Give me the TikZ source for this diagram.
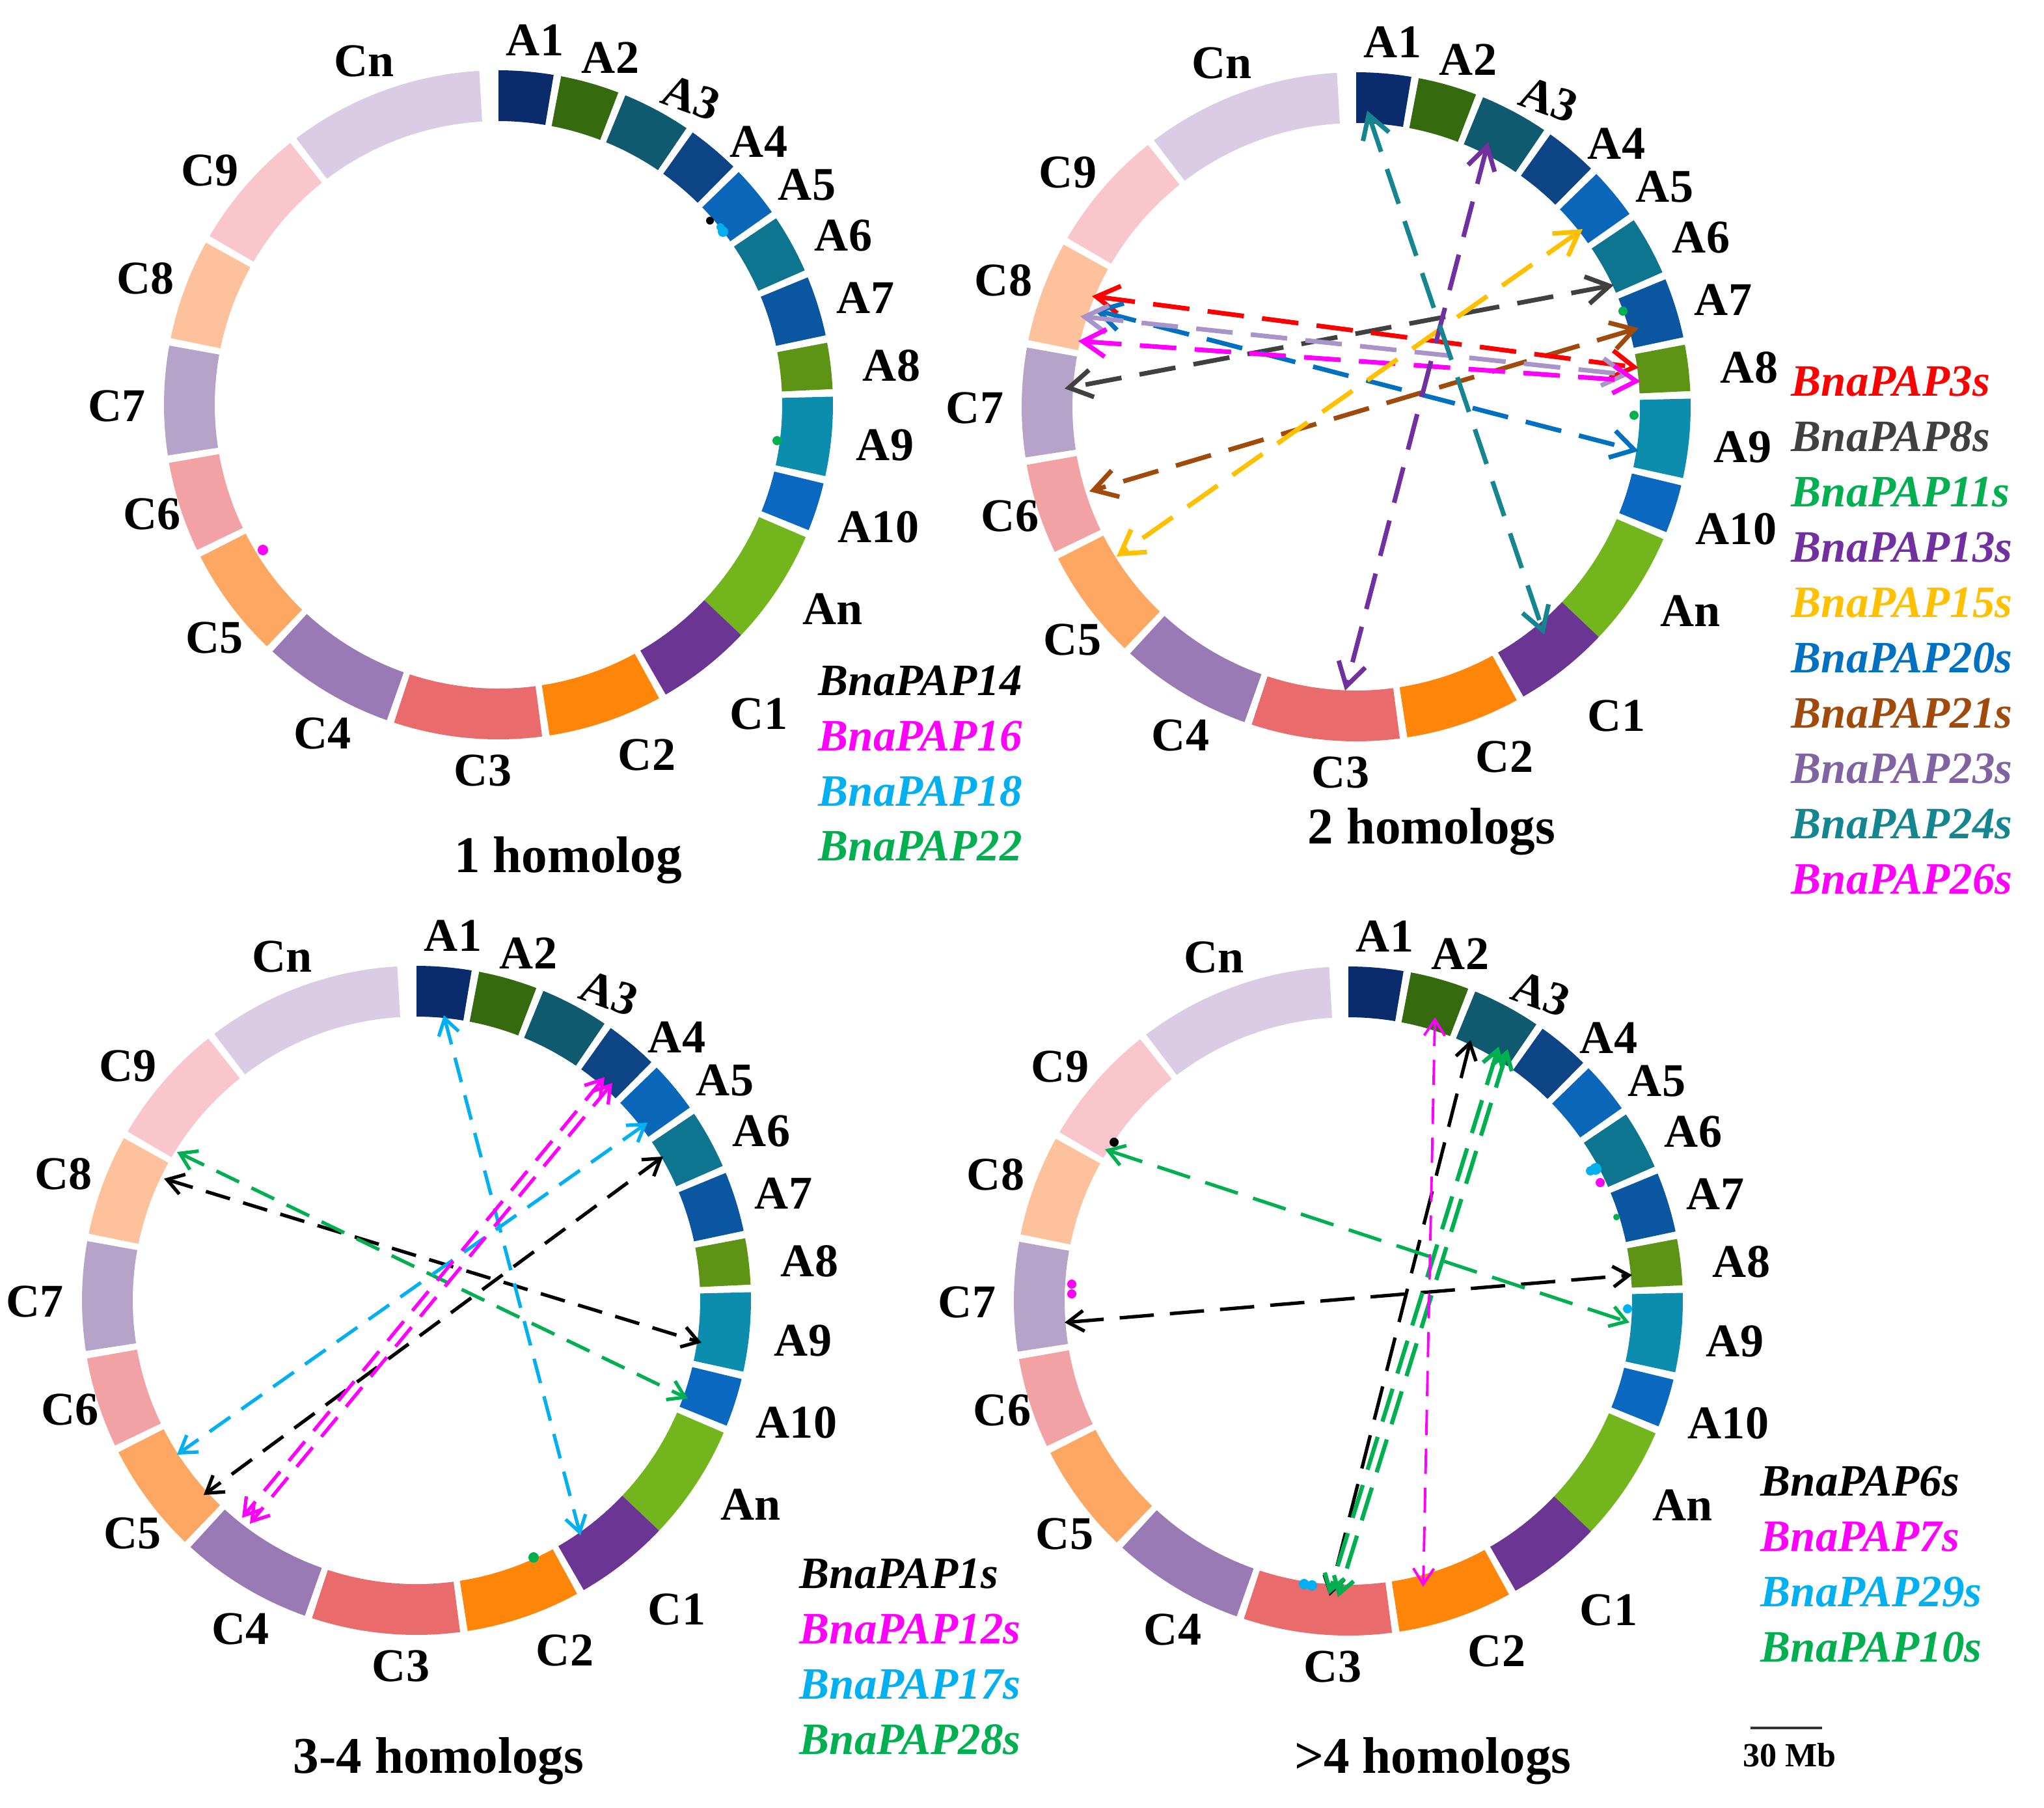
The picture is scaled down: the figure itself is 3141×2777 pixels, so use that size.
\documentclass[tikz,border=0pt]{standalone}
\usepackage{fontspec}
\setmainfont{Liberation Serif}
\usetikzlibrary{arrows.meta,calc}

\definecolor{cA1}{HTML}{0B2C6C}
\definecolor{cA2}{HTML}{356A0F}
\definecolor{cA3}{HTML}{0F5A6E}
\definecolor{cA4}{HTML}{0C4485}
\definecolor{cA5}{HTML}{0A66B8}
\definecolor{cA6}{HTML}{0E7590}
\definecolor{cA7}{HTML}{0A56A0}
\definecolor{cA8}{HTML}{5E9415}
\definecolor{cA9}{HTML}{0D8DAE}
\definecolor{cA10}{HTML}{0A68C0}
\definecolor{cAn}{HTML}{73B51C}
\definecolor{cC1}{HTML}{6A3593}
\definecolor{cC2}{HTML}{FF8609}
\definecolor{cC3}{HTML}{E96B6B}
\definecolor{cC4}{HTML}{9A7AB4}
\definecolor{cC5}{HTML}{FDA763}
\definecolor{cC6}{HTML}{F2A2A4}
\definecolor{cC7}{HTML}{B5A3CA}
\definecolor{cC8}{HTML}{FDC29C}
\definecolor{cC9}{HTML}{F8C6CC}
\definecolor{cCn}{HTML}{DACCE4}

\definecolor{gRed}{HTML}{FF0000}
\definecolor{gGray}{HTML}{404040}
\definecolor{gGreen}{HTML}{00B050}
\definecolor{gPurple}{HTML}{7030A0}
\definecolor{gGold}{HTML}{FFC000}
\definecolor{gBlue}{HTML}{0070C0}
\definecolor{gBrown}{HTML}{A04A0C}
\definecolor{gLilac}{HTML}{8064A2}
\definecolor{gLilacL}{HTML}{A894C8}
\definecolor{gTeal}{HTML}{15868F}
\definecolor{gMag}{HTML}{FF00FF}
\definecolor{gCyan}{HTML}{00B0F0}

\newcommand{\ringout}{514}
\newcommand{\ringin}{436}

\tikzset{
  chrlab/.style={font=\fontsize{20.5}{24}\selectfont\bfseries, inner sep=0pt},
  leg/.style={font=\fontsize{19.6}{23}\selectfont\bfseries\itshape, inner sep=0pt, anchor=base west},
  ttl/.style={font=\fontsize{22.5}{26}\selectfont\bfseries, inner sep=0pt, anchor=base},
  trline/.style={line width=2pt, dash pattern=on 16pt off 8pt,
     {Straight Barb[length=10pt,width=12pt]}-{Straight Barb[length=10pt,width=12pt]}},
  blline/.style={line width=1.5pt, dash pattern=on 11pt off 6pt,
     {Straight Barb[length=7pt,width=9pt]}-{Straight Barb[length=7pt,width=9pt]}},
  brline/.style={line width=1.5pt, dash pattern=on 15pt off 7pt,
     {Straight Barb[length=7pt,width=9pt]}-{Straight Barb[length=7pt,width=9pt]}},
}

\begin{document}
\begin{tikzpicture}[x=0.01cm,y={(0cm,-0.01cm)}]
\useasboundingbox (0,0) rectangle (3141,2777);
\fill[white] (0,0) rectangle (3141,2777);

% ---- rings ----
\foreach \cx/\cy/\rn in {766/622/tl,2084/625/tr,640/1998/bl,2072/1999/br}{
  \begin{scope}[shift={(\cx,\cy)}]
    \foreach \s/\e/\c in {0/9.5/cA1, 10.8/21/cA2, 22.3/34.2/cA3, 35.5/44.6/cA4,
        45.9/54.8/cA5, 56.1/66.3/cA6, 67.6/78/cA7, 79.3/87.3/cA8, 88.6/102.3/cA9,
        103.6/112/cA10, 113.3/133.5/cAn, 133.5/150/cC1, 151.3/171.2/cC2,
        172.5/198.2/cC3, 199.5/222.5/cC4, 223.8/243/cC5, 244.3/260/cC6,
        261.3/280.2/cC7, 281.5/299/cC8, 300.3/321.5/cC9, 322.8/356.7/cCn}{
      \fill[\c] ({\s-90}:\ringout) arc[start angle={\s-90}, end angle={\e-90}, radius=\ringout]
        -- ({\e-90}:\ringin) arc[start angle={\e-90}, end angle={\s-90}, radius=\ringin] -- cycle;
    }
    \foreach \l/\dx/\dy/\r in {A1/56/-560/0, A2/172/-533/0, A3/296/-472/-20,
        A4/400/-404/0, A5/474/-338/0, A6/530/-260/0, A7/564/-164/0, A8/604/-60/0,
        A9/594/62/0, A10/584/188/0, An/514/314/0, C1/400/475/0, C2/228/538/0,
        C3/-24/562/0, C4/-270/505/0, C5/-436/358/0, C6/-532/168/0, C7/-586/2/0,
        C8/-542/-194/0, C9/-443/-360/0, Cn/-206/-528/0}{
      \node[chrlab, rotate=\r] (\rn-\l) at (\dx,\dy) {\l};
    }
  \end{scope}
}

% ---- 1 homolog (top left) dots ----
\fill[black] (1091,339) circle[radius=6];
\fill[gCyan] (1111,356) circle[radius=8];
\fill[gCyan] (1107,349) circle[radius=6];
\fill[gGreen] (1194,677) circle[radius=7];
\fill[gMag] (404,845) circle[radius=8];

% ---- 2 homologs (top right) ----
\coordinate (tr-24a) at (2101,170);  \coordinate (tr-24b) at (2373,975);
\coordinate (tr-13a) at (2287,218);  \coordinate (tr-13b) at (2067,1061);
\coordinate (tr-15a) at (2432,352);  \coordinate (tr-15b) at (1716,855);
\coordinate (tr-8a)  at (2480,438);  \coordinate (tr-8b)  at (1636,597);
\coordinate (tr-21a) at (2518,504);  \coordinate (tr-21b) at (1674,755);
\coordinate (tr-3a)  at (1678,455);  \coordinate (tr-3b)  at (2518,565);
\coordinate (tr-20a) at (1681,476);  \coordinate (tr-20b) at (2518,693);
\coordinate (tr-23a) at (1660,486);  \coordinate (tr-23b) at (2504,576);
\coordinate (tr-26a) at (1657,524);  \coordinate (tr-26b) at (2521,586);
\draw[trline, gBrown] (tr-21a) -- (tr-21b);
\draw[trline, gGray] (tr-8a) -- (tr-8b);
\draw[trline, gRed] (tr-3a) -- (tr-3b);
\draw[trline, gBlue] (tr-20a) -- (tr-20b);
\draw[trline, gLilacL] (tr-23a) -- (tr-23b);
\draw[trline, gMag] (tr-26a) -- (tr-26b);
\draw[trline, gGold] (tr-15a) -- (tr-15b);
\draw[trline, gPurple] (tr-13a) -- (tr-13b);
\draw[trline, gTeal] (tr-24a) -- (tr-24b);
\fill[gGreen] (2494,478) circle[radius=7];
\fill[gGreen] (2511,638) circle[radius=7];

% ---- 3-4 homologs (bottom left) ----
\coordinate (bl-17a) at (682,1560);  \coordinate (bl-17b) at (892,2359);
\coordinate (bl-17c) at (995,1725);  \coordinate (bl-17d) at (272,2235);
\coordinate (bl-1a)  at (1019,1777); \coordinate (bl-1b)  at (313,2297);
\coordinate (bl-1c)  at (252,1811);  \coordinate (bl-1d)  at (1078,2063);
\coordinate (bl-28a) at (272,1770);  \coordinate (bl-28b) at (1057,2149);
\coordinate (bl-12a) at (941,1664);  \coordinate (bl-12b) at (384,2341);
\coordinate (bl-12c) at (929,1655);  \coordinate (bl-12d) at (372,2332);
\draw[blline, black] (bl-1a) -- (bl-1b);
\draw[blline, black] (bl-1c) -- (bl-1d);
\draw[blline, gGreen] (bl-28a) -- (bl-28b);
\draw[blline, gCyan] (bl-17a) -- (bl-17b);
\draw[blline, gCyan] (bl-17c) -- (bl-17d);
\draw[blline, gMag] (bl-12a) -- (bl-12b);
\draw[blline, gMag] (bl-12c) -- (bl-12d);
\fill[gGreen] (820,2393) circle[radius=8];

% ---- >4 homologs (bottom right) ----
\coordinate (br-7a)  at (2205,1563); \coordinate (br-7b)  at (2187,2438);
\coordinate (br-6a)  at (2260,1598); \coordinate (br-6b)  at (2043,2452);
\coordinate (br-6c)  at (1636,2032); \coordinate (br-6d)  at (2508,1959);
\coordinate (br-10a) at (2317,1612); \coordinate (br-10b) at (2056,2454);
\coordinate (br-10c) at (2303,1608); \coordinate (br-10d) at (2042,2450);
\coordinate (br-10e) at (1698,1766); \coordinate (br-10f) at (2504,2032);
\draw[brline, black] (br-6a) -- (br-6b);
\draw[brline, black] (br-6c) -- (br-6d);
\draw[brline, gGreen] (br-10e) -- (br-10f);
\draw[brline, gGreen, line width=1.8pt] (br-10a) -- (br-10b);
\draw[brline, gGreen, line width=1.8pt] (br-10c) -- (br-10d);
\draw[brline, gMag, line width=1.1pt, dash pattern=on 11pt off 6pt] (br-7a) -- (br-7b);
\fill[black] (1712,1755) circle[radius=7];
\fill[gCyan] (2452,1796) circle[radius=9];
\fill[gCyan] (2444,1799) circle[radius=7];
\fill[gMag] (2459,1817) circle[radius=7];
\fill[gGreen] (2484,1870) circle[radius=5];
\fill[gCyan] (2501,2011) circle[radius=7];
\fill[gMag] (1647,1973) circle[radius=7];
\fill[gMag] (1647,1988) circle[radius=7];
\fill[gCyan] (2004,2434) circle[radius=8];
\fill[gCyan] (2016,2436) circle[radius=8];

% ---- legends ----
\node[leg, text=black] (lg-14) at (1257,1068) {BnaPAP14};
\node[leg, text=gMag]  (lg-16) at (1257,1153) {BnaPAP16};
\node[leg, text=gCyan] (lg-18) at (1257,1238) {BnaPAP18};
\node[leg, text=gGreen](lg-22) at (1257,1322) {BnaPAP22};

\node[leg, text=gRed]    (lg-3)  at (2752,608)  {BnaPAP3s};
\node[leg, text=gGray]   (lg-8)  at (2752,693)  {BnaPAP8s};
\node[leg, text=gGreen]  (lg-11) at (2752,778)  {BnaPAP11s};
\node[leg, text=gPurple] (lg-13) at (2752,863)  {BnaPAP13s};
\node[leg, text=gGold]   (lg-15) at (2752,948)  {BnaPAP15s};
\node[leg, text=gBlue]   (lg-20) at (2752,1033) {BnaPAP20s};
\node[leg, text=gBrown]  (lg-21) at (2752,1118) {BnaPAP21s};
\node[leg, text=gLilac]  (lg-23) at (2752,1203) {BnaPAP23s};
\node[leg, text=gTeal]   (lg-24) at (2752,1288) {BnaPAP24s};
\node[leg, text=gMag]    (lg-26) at (2752,1373) {BnaPAP26s};

\node[leg, text=black]  (lg-1)  at (1228,2440) {BnaPAP1s};
\node[leg, text=gMag]   (lg-12) at (1228,2525) {BnaPAP12s};
\node[leg, text=gCyan]  (lg-17) at (1228,2610) {BnaPAP17s};
\node[leg, text=gGreen] (lg-28) at (1228,2695) {BnaPAP28s};

\node[leg, text=black]  (lg-6)  at (2705,2298) {BnaPAP6s};
\node[leg, text=gMag]   (lg-7)  at (2705,2383) {BnaPAP7s};
\node[leg, text=gCyan]  (lg-29) at (2705,2468) {BnaPAP29s};
\node[leg, text=gGreen] (lg-10) at (2705,2553) {BnaPAP10s};

% ---- titles ----
\node[ttl] (t1) at (873,1340) {1 homolog};
\node[ttl] (t2) at (2200,1296) {2 homologs};
\node[ttl] (t3) at (674,2724) {3-4 homologs};
\node[ttl] (t4) at (2202,2724) {>4 homologs};

% ---- scale bar ----
\coordinate (sb-l) at (2690,2655);
\coordinate (sb-r) at (2800,2655);
\draw[line width=1.2pt, black!80] (sb-l) -- (sb-r);
\node[font=\fontsize{14.8}{17}\selectfont\bfseries, inner sep=0pt, anchor=base] (sb-t) at (2750,2714) {30 Mb};
\end{tikzpicture}
\end{document}
